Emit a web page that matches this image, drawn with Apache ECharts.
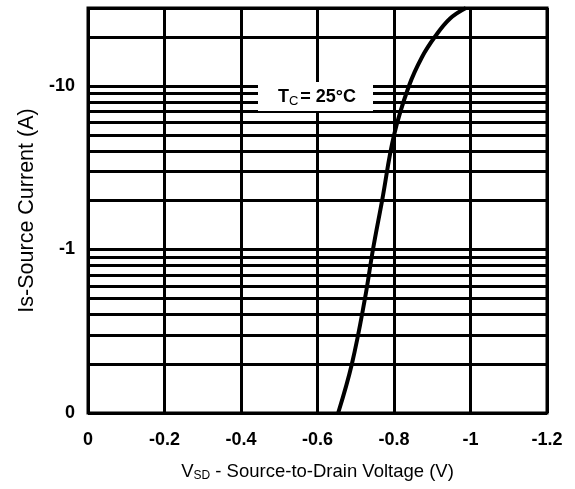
<!DOCTYPE html>
<html>
<head>
<meta charset="utf-8">
<script src="https://cdn.jsdelivr.net/npm/echarts@6/dist/echarts.min.js"></script>
<style>
  html, body { margin: 0; padding: 0; background: #fff; }
  #chart { width: 575px; height: 489px; }
</style>
</head>
<body>
<div id="chart"></div>
<script>
// source-drain diode forward voltage vs. source current, Tc = 25°C
const vsd = [-0.654, -0.690, -0.724, -0.745, -0.769, -0.800, -0.839, -0.873, -0.907, -0.946, -0.988]
const isCurrent = [-0.1, -0.2, -0.5, -1, -2, -5, -10, -15, -20, -25.8, -30]

// log grid lines (magnitudes) and the labelled decades
const minorLines = [0.2, 0.3, 0.4, 0.5, 0.6, 0.7, 0.8, 0.9, 2, 3, 4, 5, 6, 7, 8, 9, 20]
const decadeLabels = { 0.1: '0', 1: '-1', 10: '-10' }

const font = '"Liberation Sans", Arial, sans-serif'

const option = {
  animation: false,
  backgroundColor: '#fff',
  grid: {
    left: 88,
    right: 28,
    top: 8,
    bottom: 76,
    show: true,
    borderColor: '#000',
    borderWidth: 3,
  },
  xAxis: {
    type: 'value',
    min: -1.2,
    max: 0,
    interval: 0.2,
    inverse: true,
    name: '{v|V}{sub|SD}{v| - Source-to-Drain Voltage (V)}',
    nameLocation: 'middle',
    nameGap: 48,
    nameTextStyle: {
      rich: {
        v: { fontFamily: font, fontSize: 18.5, color: '#000' },
        sub: { fontFamily: font, fontSize: 12, color: '#000', padding: [9, 0, 0, 0] },
      },
    },
    axisLine: { show: false },
    axisTick: { show: false },
    axisLabel: {
      margin: 18,
      color: '#000',
      fontFamily: font,
      fontSize: 18,
      fontWeight: 'bold',
      formatter: (v) => (v === 0 ? '0' : String(+v.toFixed(1))),
    },
    splitLine: { show: true, lineStyle: { color: '#000', width: 3 } },
  },
  yAxis: {
    type: 'log',
    logBase: 10,
    min: 0.1,
    max: 30,
    name: 'Is-Source Current (A)',
    nameLocation: 'middle',
    nameGap: 48,
    nameTextStyle: { fontFamily: font, fontSize: 21.5, color: '#000' },
    axisLine: { show: false },
    axisTick: { show: false },
    axisLabel: {
      margin: 13,
      color: '#000',
      fontFamily: font,
      fontSize: 18,
      fontWeight: 'bold',
      formatter: (v) => {
        const key = +(+v).toPrecision(3)
        return decadeLabels[key] !== undefined ? decadeLabels[key] : ''
      },
    },
    splitLine: { show: true, lineStyle: { color: '#000', width: 3 } },
  },
  series: [
    {
      type: 'line',
      smooth: 0.4,
      symbol: 'none',
      z: 5,
      lineStyle: { color: '#000', width: 4 },
      data: vsd.map((v, i) => [v, Math.abs(isCurrent[i])]),
      markLine: {
        silent: true,
        symbol: 'none',
        label: { show: false },
        lineStyle: { color: '#000', width: 3, type: 'solid' },
        data: minorLines.map((y) => ({ yAxis: y })),
      },
    },
  ],
  graphic: [
    {
      type: 'rect',
      z: 100,
      shape: { x: 258, y: 82, width: 115, height: 29 },
      style: { fill: '#fff' },
    },
    {
      type: 'text',
      z: 101,
      x: 317,
      y: 97,
      style: {
        text: '{t|T}{sub|C}{t|= 25°C}',
        align: 'center',
        verticalAlign: 'middle',
        rich: {
          t: { fontFamily: font, fontSize: 18, fill: '#000', fontWeight: 'bold' },
          sub: { fontFamily: font, fontSize: 13, fill: '#000', padding: [8, 2, 0, 0] },
        },
      },
    },
  ],
}

const chart = echarts.init(document.getElementById('chart'))
chart.setOption(option)
</script>
</body>
</html>
